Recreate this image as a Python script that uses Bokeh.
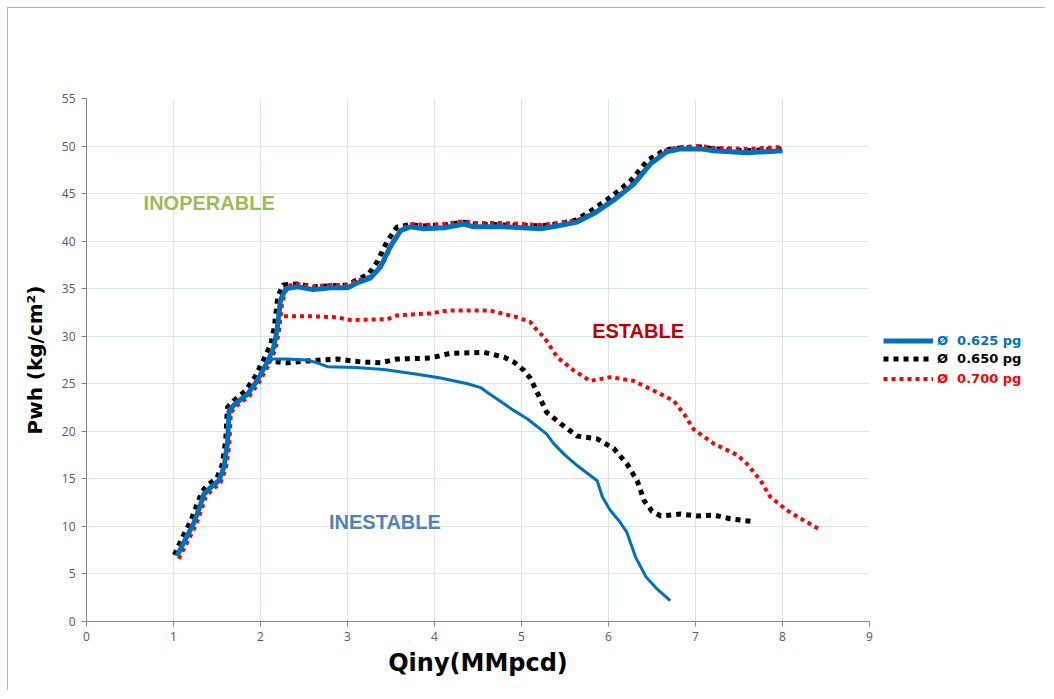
from bokeh.plotting import figure
from bokeh.layouts import row
from bokeh.models import Range1d, FixedTicker, Legend, LegendItem, Label
from bokeh.embed import file_html
from bokeh.resources import INLINE

# ---------------- data ----------------
x_ticks = [0, 1, 2, 3, 4, 5, 6, 7, 8, 9]
y_ticks = [0, 5, 10, 15, 20, 25, 30, 35, 40, 45, 50, 55]

series_labels = ["Ø  0.625 pg", "Ø  0.650 pg", "Ø  0.700 pg"]

# upper (common) branch of each curve
blue_up_x = [1.04, 1.13, 1.23, 1.30, 1.35, 1.43, 1.52, 1.58, 1.62, 1.64, 1.71, 1.85, 1.96, 2.08, 2.15, 2.19, 2.23, 2.29, 2.42, 2.61, 2.80, 3.00, 3.11, 3.26, 3.38, 3.49, 3.61, 3.72, 3.88, 4.11, 4.34, 4.45, 4.80, 5.22, 5.41, 5.64, 5.83, 6.06, 6.29, 6.48, 6.67, 6.83, 7.06, 7.21, 7.59, 8.00]
blue_up_y = [6.9, 8.5, 10.3, 12.0, 13.4, 14.1, 14.8, 16.2, 18.7, 22.2, 22.9, 23.9, 25.3, 27.3, 28.8, 30.6, 33.8, 35.0, 35.2, 34.9, 35.1, 35.1, 35.6, 36.1, 37.3, 39.4, 41.1, 41.5, 41.3, 41.4, 41.8, 41.5, 41.5, 41.3, 41.6, 42.0, 42.9, 44.3, 46.0, 48.1, 49.4, 49.7, 49.7, 49.5, 49.3, 49.5]

black_up_x = [1.01, 1.10, 1.20, 1.27, 1.33, 1.40, 1.50, 1.56, 1.60, 1.62, 1.69, 1.82, 1.93, 2.04, 2.12, 2.16, 2.20, 2.26, 2.42, 2.61, 2.80, 3.00, 3.10, 3.24, 3.34, 3.45, 3.57, 3.70, 3.88, 4.11, 4.34, 4.45, 4.80, 5.22, 5.41, 5.62, 5.80, 6.02, 6.25, 6.45, 6.65, 6.83, 7.06, 7.21, 7.59, 8.00]
black_up_y = [7.0, 8.8, 10.6, 12.3, 13.7, 14.4, 15.1, 16.5, 19.0, 22.5, 23.2, 24.2, 25.6, 27.6, 29.2, 31.0, 34.2, 35.4, 35.5, 35.2, 35.3, 35.4, 35.9, 36.5, 37.8, 39.9, 41.5, 41.7, 41.6, 41.7, 42.0, 41.8, 41.7, 41.6, 41.8, 42.2, 43.2, 44.6, 46.3, 48.5, 49.6, 49.8, 49.9, 49.7, 49.5, 49.7]

red_up_x = [1.06, 1.15, 1.25, 1.32, 1.37, 1.45, 1.54, 1.60, 1.64, 1.66, 1.73, 1.87, 1.98, 2.10, 2.17, 2.21, 2.25, 2.31, 2.42, 2.61, 2.80, 3.00, 3.12, 3.28, 3.40, 3.51, 3.63, 3.74, 3.88, 4.11, 4.34, 4.45, 4.80, 5.22, 5.41, 5.64, 5.83, 6.06, 6.29, 6.48, 6.67, 6.83, 7.06, 7.21, 7.59, 8.00]
red_up_y = [6.6, 8.2, 10.0, 11.7, 13.1, 13.9, 14.6, 16.0, 18.4, 22.0, 22.7, 23.7, 25.1, 27.1, 28.6, 30.4, 33.6, 35.3, 35.5, 35.2, 35.4, 35.4, 35.9, 36.3, 37.5, 39.6, 41.4, 41.8, 41.7, 41.8, 42.1, 41.9, 41.9, 41.7, 41.9, 42.2, 43.0, 44.4, 46.1, 48.2, 49.6, 49.9, 50.0, 49.8, 49.7, 49.9]

# lower (unstable) branch of each curve
blue_lo_x = [2.06, 2.30, 2.54, 2.65, 2.77, 3.10, 3.42, 3.80, 4.07, 4.38, 4.53, 4.62, 4.72, 4.91, 5.07, 5.29, 5.37, 5.50, 5.64, 5.87, 5.93, 6.02, 6.12, 6.21, 6.26, 6.31, 6.43, 6.56, 6.71]
blue_lo_y = [27.6, 27.6, 27.5, 27.2, 26.8, 26.7, 26.5, 26.0, 25.6, 25.0, 24.6, 24.0, 23.4, 22.2, 21.3, 19.7, 18.7, 17.5, 16.4, 14.8, 13.1, 11.7, 10.6, 9.4, 8.1, 6.8, 4.7, 3.4, 2.2]

black_lo_x = [2.06, 2.31, 2.54, 2.88, 3.15, 3.38, 3.57, 3.95, 4.18, 4.57, 4.80, 4.91, 5.03, 5.10, 5.18, 5.29, 5.45, 5.64, 5.87, 6.06, 6.21, 6.33, 6.41, 6.50, 6.60, 6.83, 7.02, 7.21, 7.40, 7.66]
black_lo_y = [27.4, 27.2, 27.4, 27.6, 27.3, 27.2, 27.6, 27.7, 28.2, 28.3, 27.8, 27.3, 26.4, 25.6, 24.1, 22.0, 20.8, 19.5, 19.2, 18.2, 16.6, 14.8, 12.7, 11.6, 11.1, 11.3, 11.1, 11.2, 10.8, 10.5]

red_lo_x = [2.27, 2.57, 2.88, 3.03, 3.46, 3.57, 3.95, 4.15, 4.64, 4.95, 5.10, 5.18, 5.26, 5.41, 5.60, 5.79, 6.02, 6.29, 6.56, 6.75, 6.87, 6.98, 7.21, 7.48, 7.59, 7.75, 7.86, 8.05, 8.25, 8.44]
red_lo_y = [32.1, 32.1, 32.0, 31.7, 31.8, 32.2, 32.4, 32.7, 32.7, 32.0, 31.5, 30.6, 29.9, 27.8, 26.4, 25.3, 25.7, 25.3, 24.1, 23.2, 21.8, 20.2, 18.7, 17.5, 16.6, 14.8, 13.1, 11.7, 10.6, 9.6]

# ---------------- styles ----------------
BLUE = "#0070c0"
BLACK = "#000000"
RED = "#ff0000"
STYLES = {
    BLUE: dict(line_color=BLUE, line_width=5, line_join="round"),
    BLACK: dict(line_color=BLACK, line_width=5, line_dash="5 5"),
    RED: dict(line_color=RED, line_width=4, line_dash="4 4"),
}

# ---------------- main chart ----------------
p = figure(width=871, height=682, output_backend="svg", toolbar_location=None,
           x_range=Range1d(0, 9), y_range=Range1d(0, 55))
p.min_border_left = 78
p.min_border_top = 90
p.min_border_right = 10
p.min_border_bottom = 69
p.outline_line_color = None
p.background_fill_color = "white"
p.border_fill_color = "white"

for ax, ticks in ((p.xaxis[0], x_ticks), (p.yaxis[0], y_ticks)):
    ax.ticker = FixedTicker(ticks=ticks)
    ax.axis_line_color = "#868686"
    ax.major_tick_line_color = "#868686"
    ax.major_tick_in = 0
    ax.major_tick_out = 5
    ax.minor_tick_line_color = None
    ax.major_label_text_font = "Open Sans"
    ax.major_label_text_font_size = "12px"
    ax.major_label_text_color = "#595959"
    ax.axis_label_text_font = "DejaVu Sans"
    ax.axis_label_text_font_style = "bold"
    ax.axis_label_text_color = "#000000"

p.xaxis.axis_label = "Qiny(MMpcd)"
p.xaxis.axis_label_text_font_size = "24px"
p.xaxis.axis_label_standoff = 5
p.xaxis.major_label_standoff = 5
p.yaxis.axis_label = "Pwh (kg/cm²)"
p.yaxis.axis_label_text_font_size = "20px"
p.yaxis.axis_label_standoff = 12
p.yaxis.major_label_standoff = 6

p.grid.grid_line_color = "#dce6f2"
p.grid.grid_line_width = 1

p.line(black_up_x, black_up_y, **STYLES[BLACK])
p.line(black_lo_x, black_lo_y, **STYLES[BLACK])
p.line(red_up_x, red_up_y, **STYLES[RED])
p.line(red_lo_x, red_lo_y, **STYLES[RED])
p.line(blue_lo_x, blue_lo_y, line_color=BLUE, line_width=3, line_join="round")
p.line(blue_up_x, blue_up_y, **STYLES[BLUE])

for txt, x, y, col in (("INOPERABLE", 1.41, 44.06, "#9bbb59"),
                       ("ESTABLE", 6.34, 30.6, "#c00000"),
                       ("INESTABLE", 3.43, 10.5, "#4f81bd")):
    p.add_layout(Label(x=x, y=y, text=txt, text_align="center", text_baseline="middle",
                       text_font="Liberation Sans", text_font_style="bold",
                       text_font_size="20px", text_color=col))

# ---------------- legend panel ----------------
# the legend lives in a companion figure whose data window shows nothing,
# so its legend entries are not clipped by the main chart's frame
q = figure(width=166, height=682, output_backend="svg", toolbar_location=None,
           x_range=Range1d(100, 101), y_range=Range1d(100, 101),
           x_axis_location=None, y_axis_location=None)
q.min_border_left = 0
q.min_border_right = 0
q.min_border_top = 0
q.min_border_bottom = 0
q.outline_line_color = None
q.grid.visible = False
q.background_fill_color = "white"
q.border_fill_color = "white"

for lab, col, xs, ys, loc in ((series_labels[0], BLUE, blue_up_x, blue_up_y, (4, 272)),
                              (series_labels[1], BLACK, black_up_x, black_up_y, (4, 254)),
                              (series_labels[2], RED, red_up_x, red_up_y, (4, 234))):
    r = q.line(xs, ys, **STYLES[col])
    leg = Legend(items=[LegendItem(label=lab, renderers=[r])], location=loc)
    leg.padding = 0
    leg.margin = 0
    leg.border_line_color = None
    leg.background_fill_alpha = 0
    leg.glyph_width = 50
    leg.glyph_height = 17
    leg.label_height = 17
    leg.label_standoff = 4
    leg.label_text_font = "DejaVu Sans"
    leg.label_text_font_style = "bold"
    leg.label_text_font_size = "13px"
    leg.label_text_color = col
    q.add_layout(leg)

layout = row(p, q, spacing=0)
layout.styles = {"margin-left": "7px", "margin-top": "7px",
                 "border-left": "1px solid #b4b4b4", "border-top": "1px solid #b4b4b4"}

open("out.html", "w").write(file_html(layout, INLINE))
